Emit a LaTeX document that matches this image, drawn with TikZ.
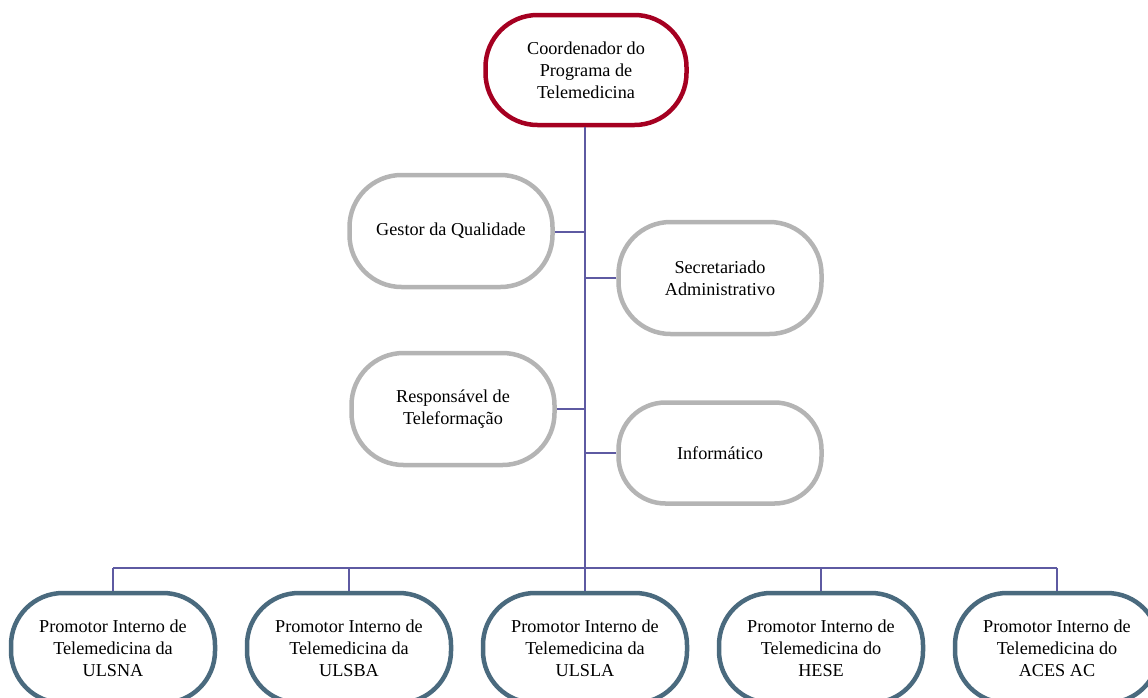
\documentclass[tikz,border=0pt]{standalone}
\usepackage{fontspec}
\setmainfont{Liberation Serif}
\begin{document}
\begin{tikzpicture}[x=1pt,y=-1pt,
  box/.style={draw, line width=4.5pt, fill=white, rounded corners=52pt, align=center,
    font=\fontsize{18.2}{22}\selectfont, inner sep=0pt},
  topbox/.style={box, draw=boxred, minimum width=201pt, minimum height=110pt},
  graybox/.style={box, draw=boxgray, minimum width=203pt, minimum height=112pt},
  botbox/.style={box, draw=boxblue, minimum width=204pt, minimum height=110pt},
  link/.style={draw=linkc, line width=1.3pt}]
\definecolor{boxred}{HTML}{A50021}
\definecolor{boxgray}{HTML}{B4B4B4}
\definecolor{boxblue}{HTML}{4A6A7E}
\definecolor{linkc}{HTML}{5E5AA2}
\useasboundingbox (0,0) rectangle (1148,697);
\clip (0,0) rectangle (1148,697);
\coordinate (top) at (585,128);
\coordinate (g) at (585,232);
\coordinate (s) at (585,278);
\coordinate (r) at (585,409);
\coordinate (i) at (585,453);
\coordinate (b1) at (113,568);
\coordinate (b2) at (349,568);
\coordinate (b4) at (821,568);
\coordinate (b5) at (1057,568);
\node[topbox] (coord) at (586,70) {Coordenador do\\Programa de\\Telemedicina};
\node[graybox] (gestor) at (451,231) {Gestor da Qualidade};
\node[graybox] (secr) at (720,278) {Secretariado\\Administrativo};
\node[graybox] (resp) at (453,409) {Responsável de\\Teleformação};
\node[graybox,minimum height=101pt,rounded corners=47pt] (info) at (720,453) {Informático};
\node[botbox] (p1) at (113,648) {Promotor Interno de\\Telemedicina da\\ULSNA};
\node[botbox] (p2) at (349,648) {Promotor Interno de\\Telemedicina da\\ULSBA};
\node[botbox] (p3) at (585,648) {Promotor Interno de\\Telemedicina da\\ULSLA};
\node[botbox] (p4) at (821,648) {Promotor Interno de\\Telemedicina do\\HESE};
\node[botbox] (p5) at (1057,648) {Promotor Interno de\\Telemedicina do\\ACES AC};
\draw[link] (coord.south -| top) -- (p3.north);
\draw[link] (gestor.east |- g) -- (g);
\draw[link] (secr.west) -- (s);
\draw[link] (resp.east) -- (r);
\draw[link] (info.west) -- (i);
\draw[link] (b1) -- (b5);
\draw[link] (b1) -- (p1.north);
\draw[link] (b2) -- (p2.north);
\draw[link] (b4) -- (p4.north);
\draw[link] (b5) -- (p5.north);
\end{tikzpicture}
\end{document}
